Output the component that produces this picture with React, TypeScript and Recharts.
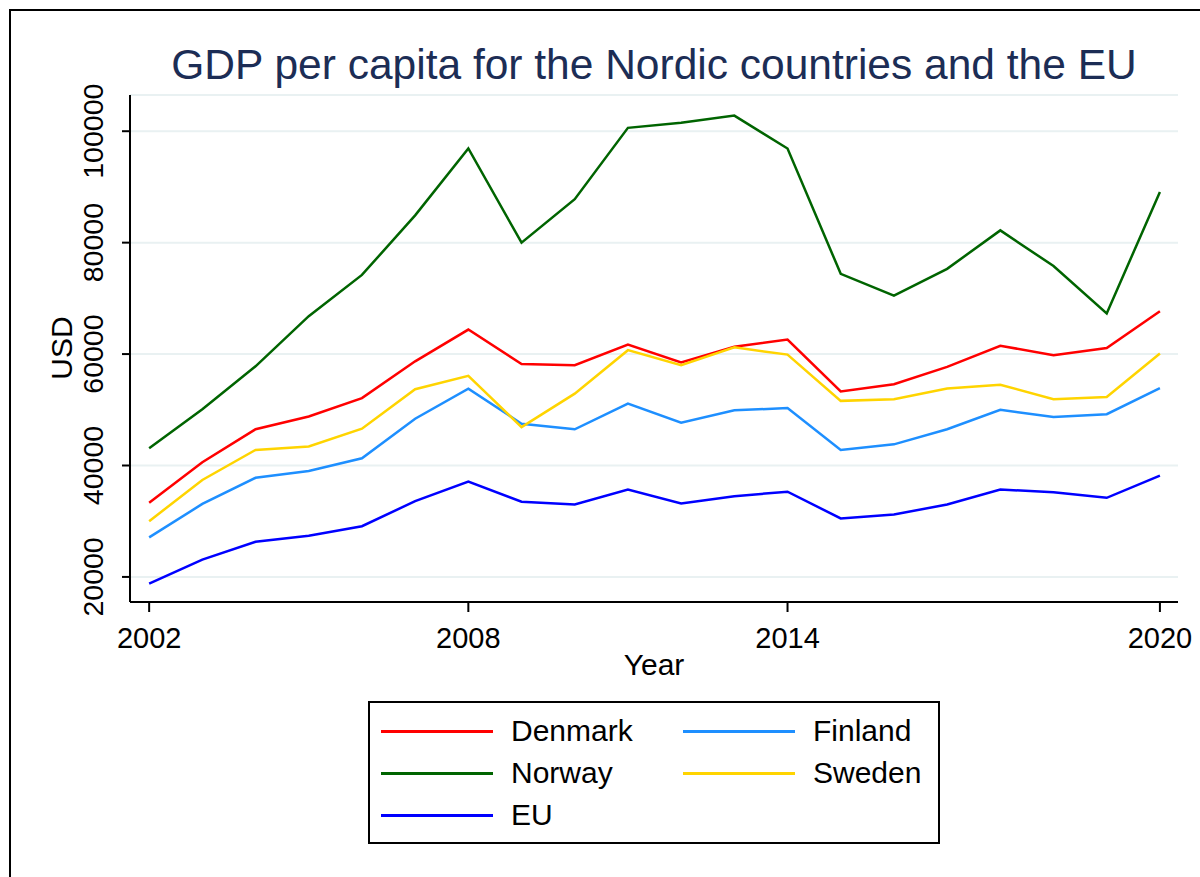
import React from "react";
import { LineChart, Line, XAxis, YAxis, CartesianGrid } from "recharts";

// x positions are period indices; the axis only labels four of them
const tickIndex = [0, 6, 12, 19];
const tickLabels = ["2002", "2008", "2014", "2020"];
const yTicks = [20000, 40000, 60000, 80000, 100000];

const denmark = [33300, 40600, 46500, 48800, 52100, 58700, 64400, 58200, 58000, 61700, 58500, 61300, 62600, 53300, 54600, 57700, 61500, 59800, 61100, 67700];
const finland = [27100, 33100, 37800, 39000, 41300, 48400, 53800, 47500, 46500, 51100, 47700, 49900, 50300, 42800, 43800, 46500, 50000, 48700, 49200, 53900];
const norway = [43100, 50100, 57800, 66800, 74200, 84900, 96900, 80000, 87800, 100600, 101500, 102800, 96900, 74400, 70500, 75300, 82200, 75800, 67300, 89100];
const sweden = [30000, 37400, 42800, 43400, 46600, 53700, 56100, 46900, 52900, 60700, 58000, 61200, 59900, 51600, 51900, 53800, 54500, 51900, 52300, 60100];
const eu = [18800, 23100, 26300, 27400, 29100, 33600, 37100, 33500, 33000, 35700, 33200, 34500, 35300, 30500, 31200, 33000, 35700, 35200, 34200, 38200];

const series = [
  { key: "denmark", name: "Denmark", color: "#ff0000", values: denmark },
  { key: "finland", name: "Finland", color: "#1e8fff", values: finland },
  { key: "norway", name: "Norway", color: "#006400", values: norway },
  { key: "sweden", name: "Sweden", color: "#ffd400", values: sweden },
  { key: "eu", name: "EU", color: "#0000ff", values: eu },
];

const data = denmark.map((_, i) => {
  const row: any = { idx: i };
  series.forEach((s) => (row[s.key] = s.values[i]));
  return row;
});

const font = "'Liberation Sans', Arial, Helvetica, sans-serif";

const XTick = (props: any) => {
  const { x, payload } = props;
  const i = tickIndex.indexOf(payload.value);
  return (
    <text x={x} y={648} textAnchor="middle" fontSize={29} fontFamily={font} fill="#000">
      {tickLabels[i]}
    </text>
  );
};

const YTick = (props: any) => {
  const { y, payload } = props;
  return (
    <text transform={`translate(103, ${y}) rotate(-90)`} textAnchor="middle" fontSize={28.5} fontFamily={font} fill="#000">
      {payload.value}
    </text>
  );
};

const App: React.FC = () => {
  return (
    <div style={{ position: "absolute", left: 0, top: 0, width: 1200, height: 877, overflow: "hidden", background: "#fff", fontFamily: font }}>
      <div style={{ position: "absolute", left: 9, top: 9, width: 1400, height: 1000, borderLeft: "2px solid #000", borderTop: "2px solid #000" }} />
      <div style={{ position: "absolute", left: 130, top: 44, width: 1048, textAlign: "center", fontSize: 42.5, lineHeight: "42.5px", color: "#1c2d55", whiteSpace: "nowrap" }}>
        GDP per capita for the Nordic countries and the EU
      </div>
      <div style={{ position: "absolute", left: 0, top: 0 }}>
        <LineChart width={1200} height={877} data={data} margin={{ top: 95, right: 22, bottom: 0, left: 0 }}>
          <CartesianGrid vertical={false} stroke="#e9f1f2" strokeWidth={2} />
          <XAxis
            dataKey="idx"
            type="number"
            domain={[-0.36, 19.34]}
            ticks={tickIndex}
            tick={<XTick />}
            tickSize={10}
            height={275}
            axisLine={{ stroke: "#000", strokeWidth: 2 }}
            tickLine={{ stroke: "#000", strokeWidth: 2 }}
            allowDataOverflow
            label={() => (
              <text x={654} y={675} textAnchor="middle" fontSize={30} fontFamily={font} fill="#000">
                Year
              </text>
            )}
          />
          <YAxis
            type="number"
            domain={[15500, 106500]}
            ticks={yTicks}
            tick={<YTick />}
            tickSize={8}
            width={130}
            axisLine={{ stroke: "#000", strokeWidth: 2 }}
            tickLine={{ stroke: "#000", strokeWidth: 2 }}
            allowDataOverflow
            label={() => (
              <text transform="translate(72, 348) rotate(-90)" textAnchor="middle" fontSize={30} fontFamily={font} fill="#000">
                USD
              </text>
            )}
          />
          {series.map((s) => (
            <Line key={s.key} dataKey={s.key} name={s.name} stroke={s.color} strokeWidth={2.5} dot={false} isAnimationActive={false} />
          ))}
        </LineChart>
      </div>
      <div
        style={{
          position: "absolute",
          left: 368,
          top: 701,
          width: 568,
          height: 132,
          border: "2px solid #000",
          display: "grid",
          gridTemplateColumns: "302px 266px",
          gridAutoRows: "42px",
          paddingTop: 7,
          boxSizing: "content-box",
        }}
      >
        {series.map((s) => (
          <div key={s.key} style={{ display: "flex", alignItems: "center" }}>
            <span style={{ display: "inline-block", width: 112, height: 3, background: s.color, marginLeft: 11, marginRight: 18 }} />
            <span style={{ fontSize: 30, lineHeight: "30px", color: "#000" }}>{s.name}</span>
          </div>
        ))}
      </div>
    </div>
  );
};

export default App;
